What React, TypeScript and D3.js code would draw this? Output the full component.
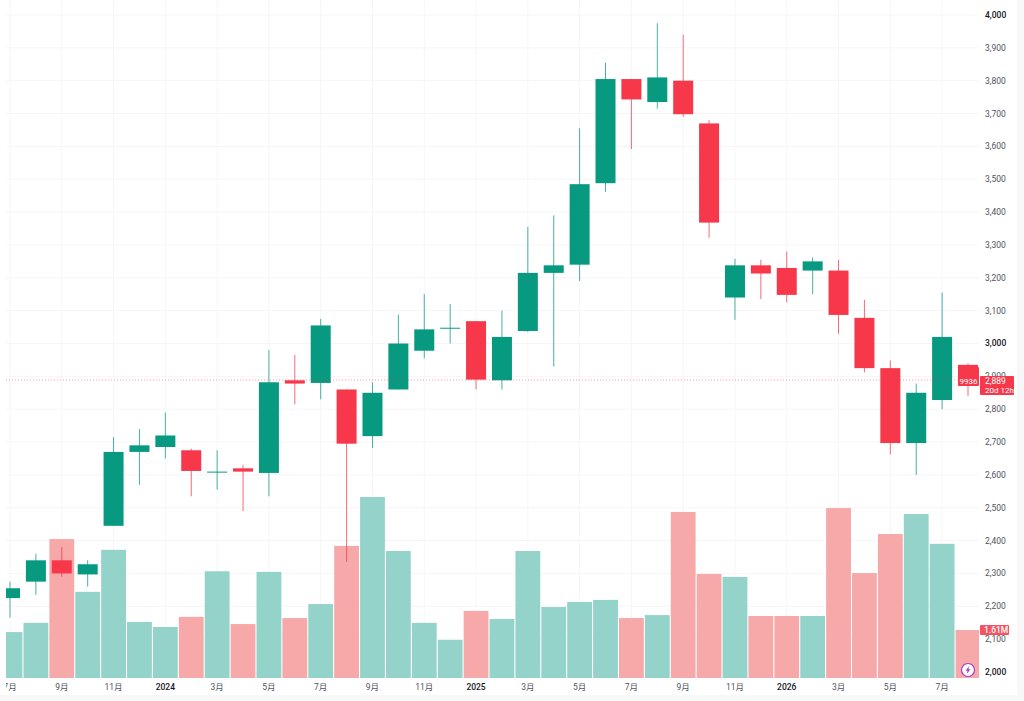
import React from 'react';
import * as d3 from 'd3';

// monthly candles, Jul 2023 .. Aug 2026
const opens = [2225, 2275, 2340, 2297, 2445, 2670, 2685, 2675, 2607, 2620, 2606, 2888, 2880, 2860, 2718, 2860, 2978, 3045, 3068, 2888, 3038, 3215, 3240, 3488, 3805, 3735, 3800, 3670, 3140, 3238, 3230, 3222, 3222, 3078, 2925, 2697, 2828, 2935];
const highs = [2275, 2360, 2380, 2340, 2715, 2740, 2790, 2680, 2675, 2630, 2980, 2965, 3075, 2860, 2882, 3088, 3150, 3120, 3068, 3100, 3355, 3390, 3655, 3855, 3805, 3975, 3940, 3680, 3258, 3255, 3280, 3262, 3255, 3133, 2948, 2878, 3155, 2940];
const lows = [2165, 2235, 2290, 2260, 2445, 2570, 2650, 2535, 2555, 2490, 2535, 2815, 2830, 2335, 2682, 2860, 2955, 3000, 2860, 2860, 3035, 2930, 3190, 3462, 3592, 3715, 3690, 3322, 3072, 3135, 3125, 3150, 3030, 2912, 2662, 2600, 2800, 2840];
const closes = [2255, 2340, 2300, 2328, 2670, 2690, 2720, 2612, 2610, 2610, 2882, 2878, 3055, 2695, 2850, 3000, 3043, 3048, 2890, 3020, 3215, 3238, 3485, 3805, 3743, 3810, 3698, 3368, 3238, 3213, 3148, 3250, 3087, 2925, 2697, 2850, 3020, 2889];
// volume in millions
const volumes = [1.54, 1.85, 4.66, 2.89, 4.30, 1.88, 1.71, 2.05, 3.58, 1.81, 3.56, 2.01, 2.48, 4.43, 6.07, 4.26, 1.85, 1.28, 2.25, 1.98, 4.26, 2.38, 2.55, 2.62, 2.01, 2.11, 5.57, 3.49, 3.39, 2.08, 2.08, 2.08, 5.70, 3.52, 4.83, 5.50, 4.50, 1.61];
// the volume colour follows the month's direction, not always the candle's
const volumeUp = [1, 1, 0, 1, 1, 1, 1, 0, 1, 0, 1, 0, 1, 0, 1, 1, 1, 1, 0, 1, 1, 1, 1, 1, 0, 1, 0, 0, 1, 0, 0, 1, 0, 0, 0, 1, 1, 0];
const monthLabels = ['7月', '', '9月', '', '11月', '', '2024', '', '3月', '', '5月', '', '7月', '', '9月', '', '11月', '', '2025', '', '3月', '', '5月', '', '7月', '', '9月', '', '11月', '', '2026', '', '3月', '', '5月', '', '7月', ''];

const UP = '#089981';
const DOWN = '#f6384a';
const VOL_UP = '#94d3ca';
const VOL_DOWN = '#f7a8a8';
const GRID = '#f6f6f8';
const FONT = 'Roboto, "Noto Sans CJK SC", sans-serif';

const App = () => {
    const width = 1024;
    const height = 701;
    const paneLeft = 6;
    const paneRight = 979;
    const paneBottom = 678;

    const x = d3.scaleLinear().domain([0, 37]).range([10, 968]);
    const y = d3.scaleLinear().domain([2000, 4000]).range([672, 15]);
    const v = d3.scaleLinear().domain([0, 1.61]).range([paneBottom, 630]);
    const priceFmt = d3.format(',');
    const yTicks = y.ticks(20);
    const lastPrice = closes[closes.length - 1];

    return (
        <svg
            width={width}
            height={height}
            viewBox={`0 0 ${width} ${height}`}
            style={{ position: 'fixed', left: 0, top: 0, background: '#fff' }}
            fontFamily={FONT}
        >
            <defs>
                <clipPath id="pane">
                    <rect x={paneLeft} y={0} width={paneRight - paneLeft} height={paneBottom} />
                </clipPath>
                <clipPath id="timeAxis">
                    <rect x={paneLeft} y={paneBottom} width={paneRight - paneLeft} height={height - paneBottom} />
                </clipPath>
            </defs>

            {/* outer frame */}
            <rect x={1017} y={0} width={7} height={height} fill="#f8f8f9" />
            <rect x={0} y={695} width={width} height={6} fill="#f8f8f9" />

            {/* grid */}
            {yTicks.map((t) => (
                <line key={t} x1={paneLeft} x2={paneRight} y1={y(t)} y2={y(t)} stroke={GRID} />
            ))}
            {monthLabels.map((m, i) =>
                m ? <line key={i} x1={x(i)} x2={x(i)} y1={0} y2={paneBottom} stroke={GRID} /> : null
            )}

            <g clipPath="url(#pane)">
                {/* volume */}
                {volumes.map((d, i) => (
                    <rect
                        key={i}
                        x={x(i) - 12.4}
                        width={24.8}
                        y={v(d)}
                        height={paneBottom - v(d)}
                        fill={volumeUp[i] ? VOL_UP : VOL_DOWN}
                    />
                ))}

                {/* candles */}
                {opens.map((o, i) => {
                    const c = closes[i];
                    const color = c >= o ? UP : DOWN;
                    const top = y(Math.max(o, c));
                    const bottom = y(Math.min(o, c));
                    return (
                        <g key={i}>
                            <line x1={x(i)} x2={x(i)} y1={y(highs[i])} y2={y(lows[i])} stroke={color} strokeOpacity={0.75} />
                            <rect x={x(i) - 10} width={20} y={top} height={Math.max(bottom - top, 1)} fill={color} />
                        </g>
                    );
                })}

                {/* last price line */}
                <line
                    x1={paneLeft}
                    x2={paneRight}
                    y1={y(lastPrice)}
                    y2={y(lastPrice)}
                    stroke={DOWN}
                    strokeOpacity={0.5}
                    strokeDasharray="1 2"
                />
            </g>

            {/* price axis */}
            {yTicks.map((t) => (
                <text
                    key={t}
                    x={985}
                    y={y(t)}
                    dy="0.35em"
                    fontSize={8.5}
                    fill={t % 1000 === 0 ? '#131722' : '#50535e'}
                    fontWeight={t % 1000 === 0 ? 500 : 400}
                >
                    {priceFmt(t)}
                </text>
            ))}

            {/* time axis */}
            <g clipPath="url(#timeAxis)">
                {monthLabels.map((m, i) =>
                    m ? (
                        <text
                            key={i}
                            x={x(i)}
                            y={690}
                            textAnchor="middle"
                            fontSize={8.5}
                            fill={m.length === 4 ? '#131722' : '#50535e'}
                            fontWeight={m.length === 4 ? 500 : 400}
                        >
                            {m}
                        </text>
                    ) : null
                )}
            </g>

            {/* last price labels */}
            <rect x={958} y={367} width={21} height={19} rx={1} fill={DOWN} />
            <text x={968.5} y={384} textAnchor="middle" fontSize={8} fill="#fff">9936</text>
            <rect x={980} y={376} width={34} height={19} rx={1} fill={DOWN} />
            <text x={985} y={384} fontSize={8.5} fill="#fff">{priceFmt(lastPrice)}</text>
            <text x={985} y={392.5} fontSize={8} fill="#fff">20d 12h</text>
            <rect x={980} y={625} width={29} height={10} rx={1} fill="#f7525f" />
            <text x={984} y={633} fontSize={8.5} fontWeight={500} fill="#fff">1.61M</text>

            {/* lightning marker */}
            <g transform="translate(968,670)">
                <circle r={6.5} fill="#fff" stroke="#9c3fc9" strokeWidth={1.2} />
                <path d="M1.2,-4 L-2.4,0.8 L-0.4,0.8 L-1.2,4 L2.4,-0.8 L0.4,-0.8 Z" fill="#9c3fc9" />
            </g>
        </svg>
    );
};

export default App;
